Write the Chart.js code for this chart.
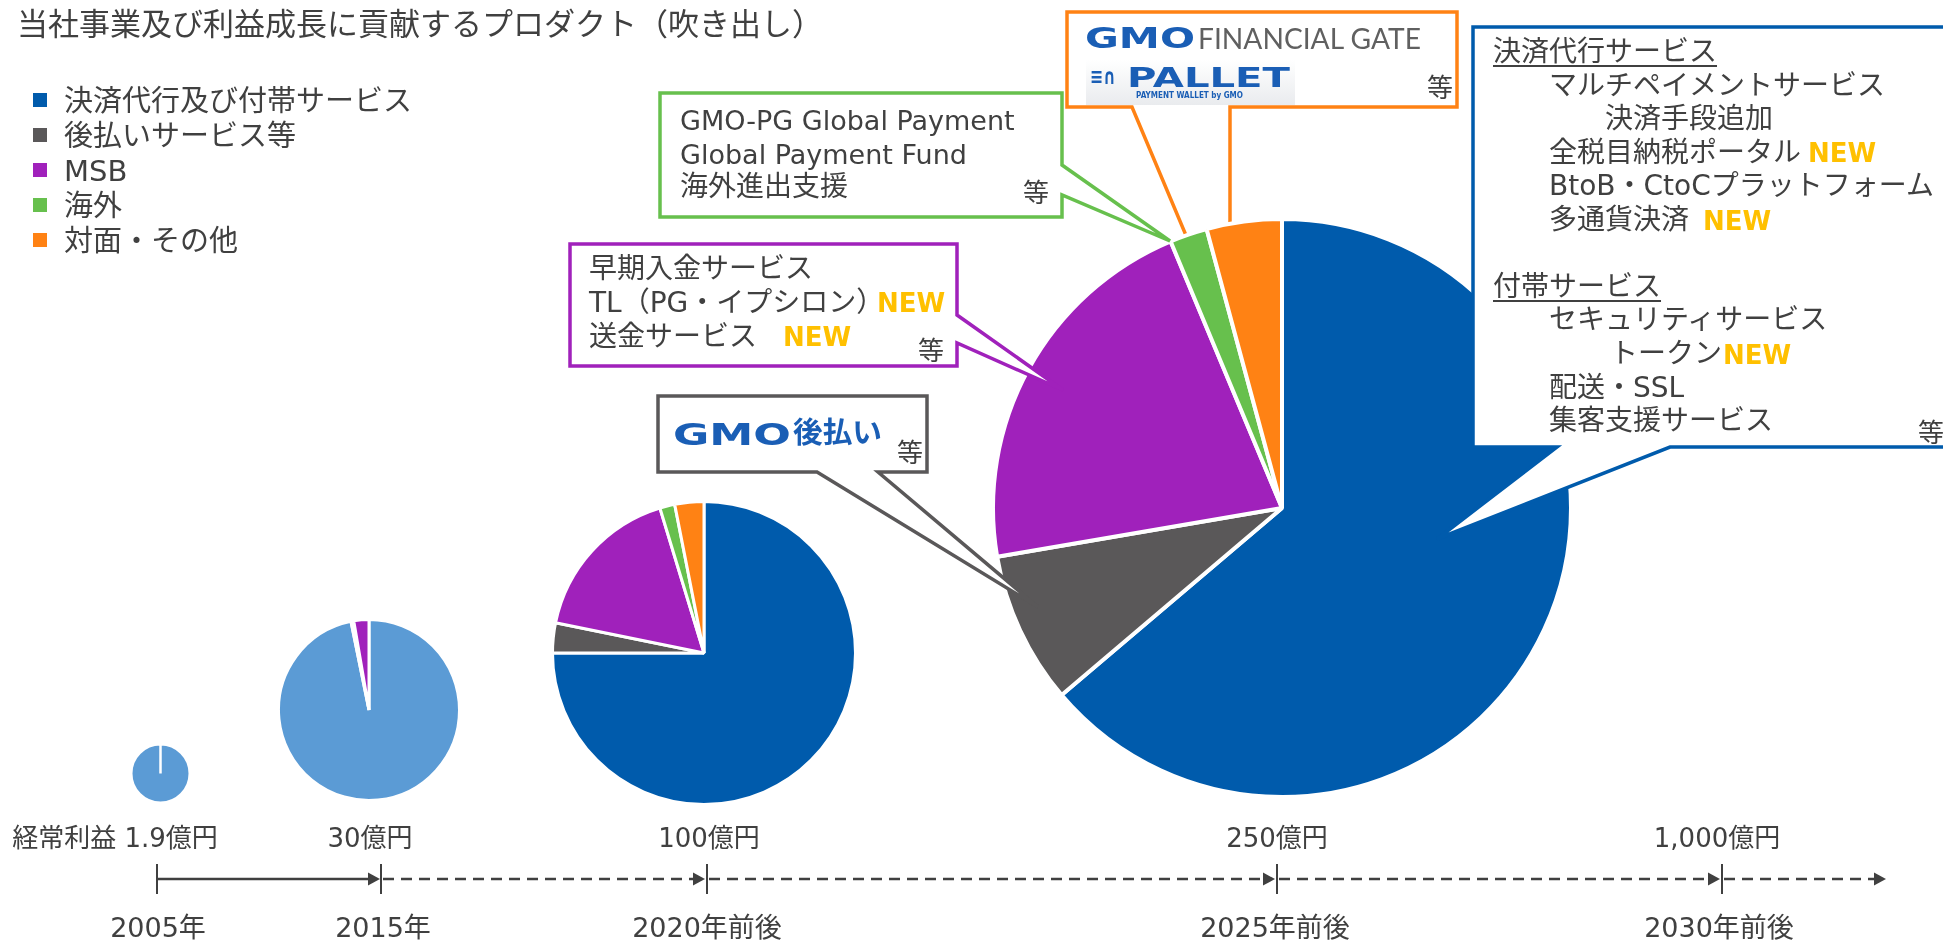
<!DOCTYPE html>
<html lang="ja">
<head>
<meta charset="utf-8">
<script src="https://cdn.jsdelivr.net/npm/chart.js@4.4.1/dist/chart.umd.min.js"></script>
<style>
  body { margin: 0; background: #fff; }
  #stage { position: relative; width: 1943px; height: 940px; overflow: hidden;
           font-family: "DejaVu Sans", "Noto Sans CJK JP", sans-serif; color: #404040; }
  .t { position: absolute; white-space: nowrap; z-index: 5; }
  .new { color: #FFC000; font-weight: bold; }
  .u { text-decoration: underline; text-decoration-thickness: 2px; text-underline-offset: 4px; }
  canvas { position: absolute; z-index: 2; }
  svg { position: absolute; left: 0; top: 0; }
</style>
</head>
<body>
<div id="stage">
  <svg id="under" width="1943" height="940" style="z-index:1"></svg>
  <svg id="over" width="1943" height="940" style="z-index:3"></svg>
  <canvas id="pie2005"></canvas>
  <canvas id="pie2015"></canvas>
  <canvas id="pie2020"></canvas>
  <canvas id="pie2025"></canvas>
</div>
<script>
// segments
const categories = ['決済代行及び付帯サービス', '後払いサービス等', 'MSB', '海外', '対面・その他'];
const colors = ['#005BAC', '#5A5859', '#A021BB', '#67C04D', '#FF8214'];
const earlyBlue = '#5B9BD5';

// share of each segment (%)
const share2005 = [100, 0, 0, 0, 0];
const share2015 = [96.8, 0.5, 2.7, 0, 0];
const share2020 = [75, 3.2, 17.1, 1.6, 3.1];
const share2025 = [63.8, 8.5, 21.4, 2.1, 4.2];

// timeline labels
const years = ['2005年', '2015年', '2020年前後', '2025年前後', '2030年前後'];
const profits = ['経常利益 1.9億円', '30億円', '100億円', '250億円', '1,000億円'];

const stage = document.getElementById('stage');

function put(str, x, cy, size, cls, center) {
  const d = document.createElement('div');
  d.className = 't' + (cls ? ' ' + cls : '');
  d.textContent = str;
  d.style.left = x + 'px';
  d.style.top = (cy - size * 0.5) + 'px';
  d.style.fontSize = size + 'px';
  d.style.lineHeight = (size * 1.1) + 'px';
  if (center) d.style.transform = 'translateX(-50%)';
  stage.appendChild(d);
  return d;
}

// squeeze/stretch a text element to a given width (used for the logos)
function fit(el, w) {
  const cur = el.getBoundingClientRect().width;
  el.style.transformOrigin = 'left center';
  el.style.transform = 'scaleX(' + (w / cur).toFixed(3) + ')';
}

// pies
function drawPie(id, cx, cy, r, bw, values, colorList) {
  const cv = document.getElementById(id);
  const size = Math.round(2 * r + 2 * bw);
  cv.width = size; cv.height = size;
  cv.style.left = (cx - size / 2) + 'px';
  cv.style.top = (cy - size / 2) + 'px';
  new Chart(cv, {
    type: 'pie',
    data: {
      labels: categories,
      datasets: [{
        data: values,
        backgroundColor: colorList,
        borderColor: '#ffffff',
        borderWidth: bw
      }]
    },
    options: {
      responsive: false,
      animation: false,
      devicePixelRatio: 1,
      events: [],
      layout: { padding: 0 },
      plugins: { legend: { display: false }, tooltip: { enabled: false } }
    }
  });
}

const earlyColors = [earlyBlue, colors[1], colors[2], colors[3], colors[4]];
drawPie('pie2005', 160, 773, 28, 2.5, share2005, earlyColors);
drawPie('pie2015', 369, 710, 89, 3, share2015, earlyColors);
drawPie('pie2020', 704, 653, 150, 3, share2020, colors);
drawPie('pie2025', 1282, 508, 287, 4, share2025, colors);

// callout bubbles
const NS = 'http://www.w3.org/2000/svg';
function path(svgId, d, stroke, sw, extra) {
  const p = document.createElementNS(NS, 'path');
  p.setAttribute('d', d);
  p.setAttribute('fill', extra && extra.fill || '#fff');
  p.setAttribute('stroke', stroke);
  p.setAttribute('stroke-width', sw);
  if (extra && extra.dash) p.setAttribute('stroke-dasharray', extra.dash);
  document.getElementById(svgId).appendChild(p);
  return p;
}
path('under', 'M1067,12 H1457 V107 H1230 L1230,340 L1132,107 H1067 Z', colors[4], 3.5);
path('over', 'M660,93 H1062 V165 L1170,241 L1062,195 V217 H660 Z', colors[3], 3.5);
path('over', 'M570,244 H957 V315 L1063,390 L957,343 V366 H570 Z', colors[2], 3.5);
path('over', 'M658,396 H927 V472 H878 L1038,607 L817,472 H658 Z', colors[1], 3.5);
path('over', 'M1473,27 H1960 V447 H1670 L1437,539 L1557,447 H1473 Z', colors[0], 3.5);

// timeline
const tickX = [157, 381, 707, 1277, 1722];
const lineY = 879, ink = '#404040';
function seg(x1, x2, dashed) {
  path('over', 'M' + x1 + ',' + lineY + ' H' + (x2 - 10), ink, 2.5, { fill: 'none', dash: dashed ? '11 7' : null });
  path('over', 'M' + (x2 - 12) + ',' + (lineY - 6.5) + ' L' + x2 + ',' + lineY + ' L' + (x2 - 12) + ',' + (lineY + 6.5) + ' Z', ink, 0, { fill: ink });
}
tickX.forEach(x => path('over', 'M' + x + ',864 V894', ink, 2, { fill: 'none' }));
seg(tickX[0], tickX[1] - 1, false);
for (let i = 1; i < tickX.length - 1; i++) seg(tickX[i] + 2, tickX[i + 1] - 2, true);
seg(tickX[4] + 2, 1886, true);

const profitX = [115, 370, 709, 1277, 1717];
const yearX = [158, 383, 707, 1275, 1719];
profits.forEach((s, i) => put(s, profitX[i], 837, 26, '', true));
years.forEach((s, i) => put(s, yearX[i], 926, 27, '', true));

// title and legend
put('当社事業及び利益成長に貢献するプロダクト（吹き出し）', 17, 22, 31);
categories.forEach((c, i) => {
  const cy = 100 + i * 35;
  const sq = document.createElement('div');
  sq.style.cssText = 'position:absolute;left:33px;top:' + (cy - 7) + 'px;width:14px;height:14px;background:' + colors[i];
  stage.appendChild(sq);
  put(c, 64, cy, 29);
});

// green bubble
put('GMO-PG Global Payment', 680, 119, 27);
put('Global Payment Fund', 680, 153, 27);
put('海外進出支援', 680, 186, 28);
put('等', 1023, 192, 26);

// purple bubble
put('早期入金サービス', 589, 268, 28);
put('TL（PG・イプシロン）', 589, 302, 28);
put('NEW', 877, 302, 26, 'new');
put('送金サービス', 589, 336, 28);
put('NEW', 783, 336, 26, 'new');
put('等', 918, 350, 26);

// gray bubble: logo
const g1 = put('GMO', 673, 433, 30);
g1.style.color = '#1a5eb5'; g1.style.fontWeight = 'bold'; fit(g1, 118);
const g2 = put('後払い', 793, 432, 29);
g2.style.color = '#1a5eb5'; g2.style.fontWeight = 'bold'; fit(g2, 89);
put('等', 897, 452, 26);

// orange bubble: logos
const o1 = put('GMO', 1085, 37, 29);
o1.style.color = '#1a5eb5'; o1.style.fontWeight = 'bold'; fit(o1, 110);
const o2 = put('FINANCIAL GATE', 1198, 37, 28);
o2.style.color = '#606060'; o2.style.fontFamily = 'Lato, "Liberation Sans", sans-serif'; fit(o2, 223);
const pb = document.createElement('div');
pb.style.cssText = 'position:absolute;left:1086px;top:60px;width:209px;height:45px;z-index:4;background:linear-gradient(#ffffff,#e9ebee)';
stage.appendChild(pb);
const p0 = put('≡∩', 1090, 76, 22);
p0.style.color = '#1a5eb5'; p0.style.fontWeight = 'bold'; fit(p0, 26);
const p1 = put('PALLET', 1127, 76, 27);
p1.style.color = '#1a5eb5'; p1.style.fontWeight = 'bold'; fit(p1, 163);
const p2 = put('PAYMENT WALLET by GMO', 1136, 96, 8);
p2.style.color = '#1a5eb5'; p2.style.fontWeight = 'bold'; fit(p2, 107);
put('等', 1427, 87, 26);

// blue bubble
put('決済代行サービス', 1493, 51, 28, 'u');
put('マルチペイメントサービス', 1549, 85, 28);
put('決済手段追加', 1605, 118, 28);
put('全税目納税ポータル', 1549, 152, 28);
put('NEW', 1808, 152, 26, 'new');
put('BtoB・CtoCプラットフォーム', 1549, 185, 28);
put('多通貨決済', 1549, 219, 28);
put('NEW', 1703, 220, 26, 'new');
put('付帯サービス', 1493, 286, 28, 'u');
put('セキュリティサービス', 1549, 319, 28);
put('トークン', 1610, 353, 28);
put('NEW', 1723, 354, 26, 'new');
put('配送・SSL', 1549, 387, 28);
put('集客支援サービス', 1549, 420, 28);
put('等', 1918, 432, 26);
</script>
</body>
</html>
